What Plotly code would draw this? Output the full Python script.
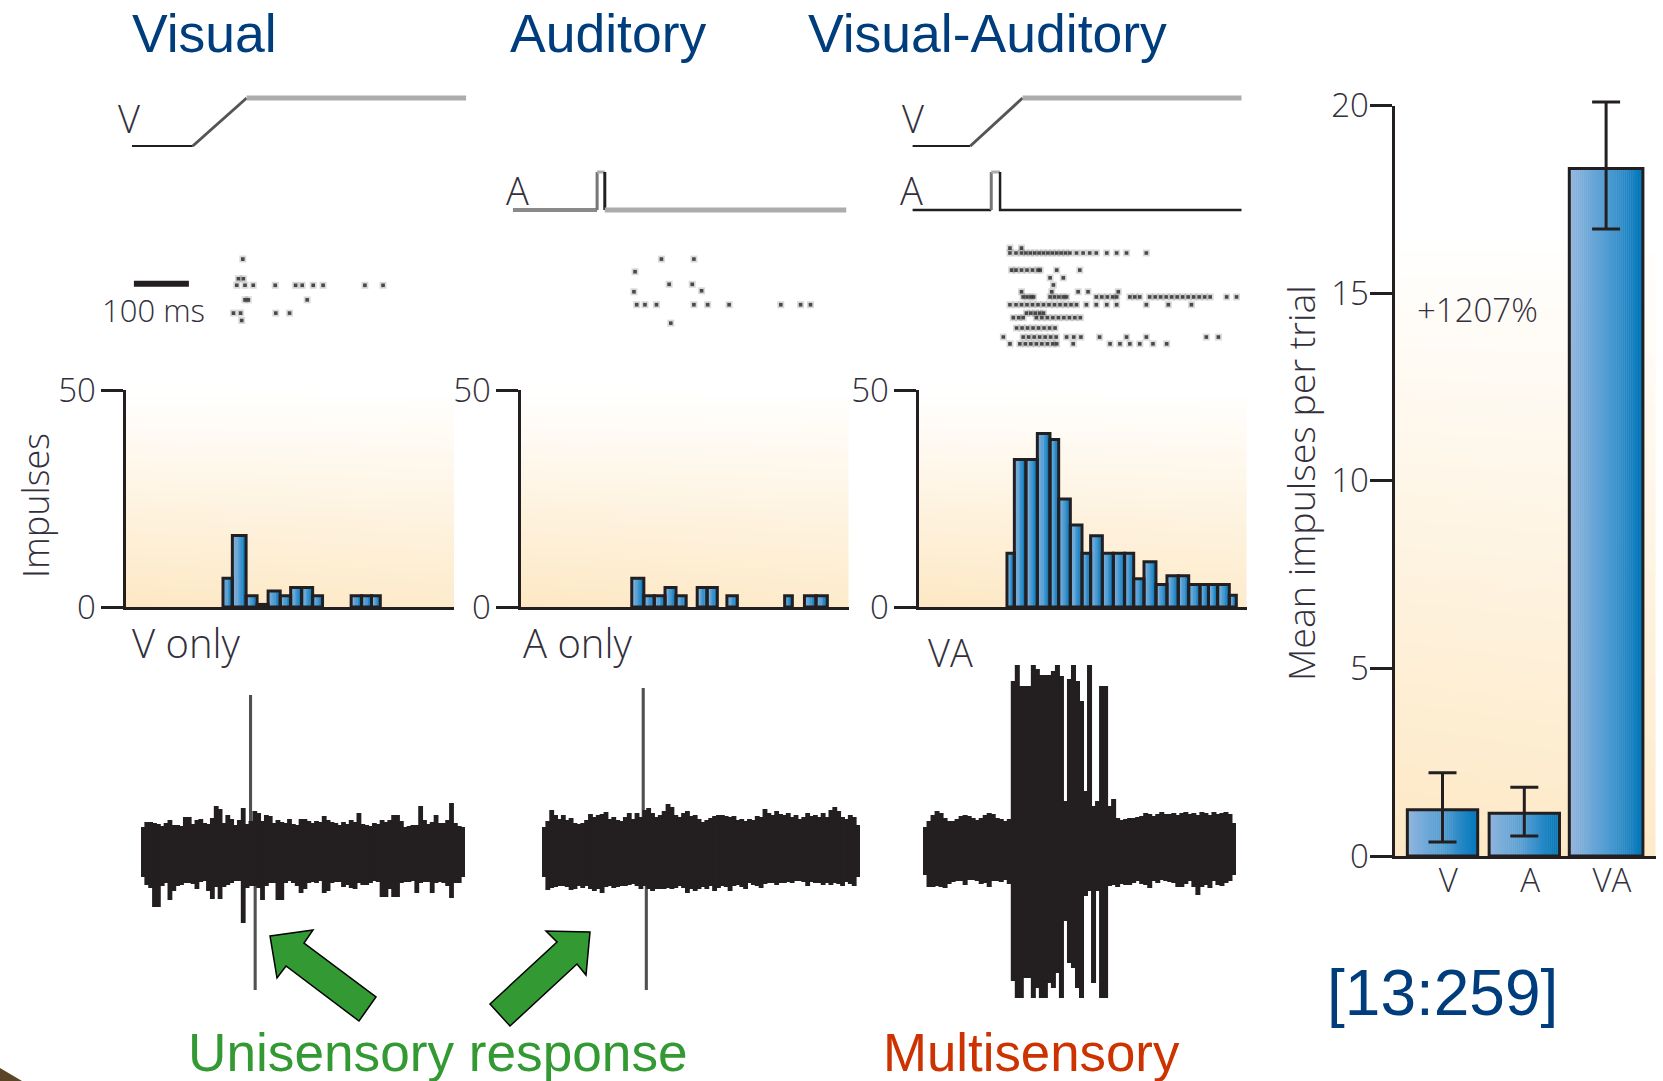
import plotly.graph_objects as go

W, H = 1663, 1081
INK = "#231f20"
TXT = "#33303c"
BLUE_TITLE = "#003d7c"
SMALL_FONT = "Open Sans"
TITLE_FONT = "Liberation Sans"

# ---------- spike-count histograms (bar edges in ms, counts) ----------
V_LEFT = [180, 197, 222, 242, 262, 284, 303, 323, 343, 413, 432, 450]
V_RIGHT = [197, 222, 242, 262, 284, 303, 323, 343, 361, 432, 450, 466]
V_COUNT = [6.6, 16.5, 2.6, 0.6, 3.7, 2.6, 4.5, 4.5, 2.6, 2.6, 2.6, 2.6]

A_LEFT = [205, 227, 246, 265.5, 285.5, 324, 342, 378, 483, 519, 540]
A_RIGHT = [227, 246, 265.5, 285.5, 304, 342, 360.6, 397, 497, 540, 560.6]
A_COUNT = [6.6, 2.6, 2.6, 4.5, 2.6, 4.5, 4.5, 2.6, 2.6, 2.6, 2.6]

VA_LEFT = [163.6, 177, 198, 218.8, 241.8, 257.6, 278.8, 300, 315.7, 337, 357, 377.5,
           394, 412.7, 434.5, 454.5, 475, 494, 514.5, 530, 546.6, 567.8]
VA_RIGHT = [177, 198, 218.8, 241.8, 257.6, 278.8, 300, 315.7, 337, 357, 377.5, 394,
            412.7, 434.5, 454.5, 475, 494, 514.5, 530, 546.6, 567.8, 580.6]
VA_COUNT = [12.4, 34, 34, 40, 38.6, 24.9, 18.9, 12.4, 16.4, 12.4, 12.4, 12.4,
            6.5, 10.4, 5.2, 7.2, 7.2, 5.2, 5.2, 5.2, 5.2, 2.7]

# ---------- mean impulses bar chart ----------
CONDITIONS = ["V", "A", "VA"]
MEAN_IMPULSES = [1.23, 1.14, 18.32]
ERR_HIGH = [2.22, 1.83, 20.09]
ERR_LOW = [0.37, 0.53, 16.71]

# ---------- stimulus time courses (ms, level) ----------
C1_V_T = [14.5, 125, 223, 622]
C1_V_L = [69, 69, 117, 117]
C2_A_T = [-11, 142, 142, 156, 156, 595]
C2_A_L = [5, 5, 43, 43, 5, 5]
C3_V_T = [-8, 97, 192, 590]
C3_V_L = [69, 69, 117, 117]
C3_A_T = [-8, 135, 135, 151, 151, 590]
C3_A_L = [5, 5, 43, 43, 5, 5]
SCALE_BAR_MS = [18, 118]
SCALE_BAR_TRIAL = [13.5, 13.5]

# ---------- rasters: trial row and spike times (ms) ----------
C1_TRIALS = [5.9, 12, 14, 18.5, 22.6, 24.9]
C1_TIMES = [[216], [208, 217], [205, 220, 235, 275, 312, 324, 344, 362, 438, 471],
            [220, 226, 333], [199, 212, 276, 301], [214]]
C2_TRIALS = [5.9, 9.8, 13.7, 15.7, 16, 20, 25.7]
C2_TIMES = [[259, 318], [211], [273, 315], [332], [209],
            [214, 229, 250, 318, 343, 382, 476, 512, 530], [276]]
C3_TRIALS = [2.5, 4, 9.3, 11.7, 13.9, 16, 17.6, 20, 22.6, 24, 27.2, 30, 32.1]
C3_TIMES = [
    [169, 190],
    [169, 180, 190, 198, 206, 214, 222, 230, 238, 246, 254, 262, 270, 278, 290, 302, 314, 326, 345, 363, 381, 417],
    [172, 180, 190, 200, 210, 220, 224, 254, 296],
    [242, 266],
    [248],
    [190, 245, 293, 311, 366],
    [193, 200, 207, 212, 242, 250, 258, 266, 272, 326, 336, 346, 356, 363, 387, 396, 405,
     423, 433, 443, 453, 463, 473, 483, 493, 503, 513, 523, 533, 563, 581],
    [169, 180, 190, 200, 210, 220, 230, 240, 250, 260, 270, 280, 290, 308, 326, 345, 363, 417, 457, 499],
    [199, 207, 215, 223, 230],
    [175, 185, 193, 217, 227, 237, 247, 257, 267, 277, 287, 297],
    [181, 191, 201, 211, 221, 231, 241, 251],
    [157, 193, 203, 213, 223, 233, 243, 253, 272, 285, 298, 332, 381, 417, 526, 548],
    [169, 187, 197, 207, 217, 227, 237, 247, 254, 284, 351, 369, 387, 405, 429, 454],
]

# ---------- recorded traces: upper and lower envelope per sample ----------
C1_UP = [26, 31, 31, 30, 29, 27, 30, 33, 28, 28, 27, 36, 36, 29, 33, 34, 30, 29, 35, 47, 44,
         30, 38, 34, 28, 33, 45, 29, 32, 42, 40, 32, 38, 37, 30, 33, 31, 30, 34, 29, 28, 34,
         34, 32, 30, 32, 31, 37, 33, 31, 30, 28, 31, 29, 33, 31, 40, 29, 28, 27, 30, 29, 33,
         31, 33, 38, 38, 32, 26, 27, 28, 28, 47, 33, 29, 31, 38, 30, 30, 33, 50, 30, 27, 26]
C1_LOW = [24, 32, 35, 54, 54, 33, 30, 47, 38, 33, 32, 30, 30, 31, 36, 29, 28, 38, 46, 34, 46,
          34, 32, 30, 28, 28, 70, 35, 33, 33, 35, 47, 33, 30, 30, 47, 47, 30, 28, 30, 33, 40,
          36, 30, 29, 30, 28, 40, 38, 30, 29, 29, 34, 32, 35, 36, 30, 32, 32, 30, 28, 29, 44,
          44, 36, 44, 44, 30, 29, 29, 28, 40, 30, 29, 29, 40, 30, 29, 30, 33, 45, 30, 30, 24]
C1_SPIKE_AT = [27.9, 29.1]
C1_SPIKE_TOP = [158, 0]
C1_SPIKE_BOTTOM = [0, 137]

C2_UP = [26, 32, 43, 38, 34, 38, 33, 35, 30, 29, 30, 33, 39, 36, 38, 39, 41, 34, 36, 33, 32,
         36, 40, 34, 40, 36, 43, 45, 40, 36, 38, 42, 49, 46, 38, 36, 40, 42, 37, 38, 34, 31,
         33, 35, 37, 38, 38, 37, 36, 37, 33, 34, 32, 34, 33, 37, 36, 44, 40, 38, 42, 39, 38,
         40, 36, 38, 34, 36, 40, 37, 38, 36, 40, 36, 43, 46, 42, 36, 34, 38, 36, 28]
C2_LOW = [24, 37, 35, 34, 33, 33, 34, 37, 36, 33, 35, 33, 36, 38, 36, 40, 34, 33, 35, 34,
          33, 33, 32, 31, 33, 36, 33, 36, 38, 36, 36, 36, 35, 36, 35, 33, 35, 40, 36, 38,
          36, 34, 36, 33, 38, 35, 33, 34, 38, 33, 32, 34, 36, 30, 32, 33, 35, 31, 30, 30,
          32, 30, 30, 29, 30, 28, 28, 29, 33, 29, 30, 30, 32, 30, 32, 30, 31, 33, 29, 31, 33, 24]
C2_SPIKE_AT = [25.6, 26.4]
C2_SPIKE_TOP = [165, 0]
C2_SPIKE_BOTTOM = [0, 137]

C3_UP = [24, 30, 36, 40, 38, 33, 30, 30, 32, 35, 36, 35, 33, 31, 33, 36, 38, 37, 33, 32, 30, 32,
         170, 186, 165, 165, 165, 186, 182, 176, 176, 176, 180, 186, 175, 50, 172, 186, 170, 150,
         60, 186, 45, 50, 165, 165, 45, 52,
         33, 31, 32, 33, 33, 34, 35, 38, 37, 35, 37, 39, 37, 37, 38, 36, 38, 39, 37, 38, 36, 39,
         38, 36, 39, 37, 38, 39, 37, 28]
C3_LOW = [24, 36, 36, 35, 36, 37, 33, 31, 30, 30, 34, 29, 29, 30, 33, 32, 36, 30, 30, 31, 29, 33,
          130, 147, 147, 127, 127, 147, 137, 147, 147, 132, 137, 122, 147, 70, 112, 117, 137, 147,
          45, 40, 132, 40, 147, 147, 35, 34,
          36, 33, 34, 34, 32, 30, 33, 34, 37, 30, 32, 29, 30, 31, 32, 36, 36, 33, 30, 36, 44, 36,
          34, 37, 30, 34, 35, 32, 30, 24]


fig = go.Figure()
axis_count = 0
layout_axes = {}


def new_axes(left, right, top, bottom, xr, yr, xopts=None, yopts=None):
    """Create an x/y axis pair occupying the given pixel box of the page."""
    global axis_count
    axis_count += 1
    n = "" if axis_count == 1 else str(axis_count)
    base = dict(visible=False, fixedrange=True, showgrid=False, zeroline=False, automargin=False)
    xa = dict(base, domain=[left / W, right / W], range=xr, anchor=f"y{n}")
    ya = dict(base, domain=[1 - bottom / H, 1 - top / H], range=yr, anchor=f"x{n}")
    xa.update(xopts or {})
    ya.update(yopts or {})
    layout_axes[f"xaxis{n}"] = xa
    layout_axes[f"yaxis{n}"] = ya
    return f"x{n}", f"y{n}"


def gradient(t):
    stops = [(0.0, (146, 182, 222)), (0.5, (84, 158, 212)), (1.0, (0, 118, 186))]
    for (a, ca), (b, cb) in zip(stops, stops[1:]):
        if t <= b:
            f = (t - a) / (b - a)
            return "rgb(%d,%d,%d)" % tuple(ca[i] + (cb[i] - ca[i]) * f for i in range(3))
    return "rgb(0,118,186)"


def gradient_bars(lefts, rights, heights, xa, ya, slices):
    xs, ws, ys, cs = [], [], [], []
    for l, r, h in zip(lefts, rights, heights):
        step = (r - l) / slices
        for k in range(slices):
            xs.append(l + (k + 0.5) * step)
            ws.append(step * 1.2 if k < slices - 1 else step)
            ys.append(h)
            cs.append(gradient((k + 0.5) / slices))
    fig.add_trace(go.Bar(x=xs, y=ys, width=ws, xaxis=xa, yaxis=ya,
                         marker=dict(color=cs, line=dict(width=0))))
    fig.add_trace(go.Bar(x=[(l + r) / 2 for l, r in zip(lefts, rights)], y=heights,
                         width=[r - l for l, r in zip(lefts, rights)], xaxis=xa, yaxis=ya,
                         marker=dict(color="rgba(0,0,0,0)", line=dict(color=INK, width=3))))


def backdrop(xa, ya, xr, yr, tilt=0.12):
    # a backdrop wash: fades from cream at the baseline to white at the top
    rows = 21
    ys = [yr[0] + (yr[1] - yr[0]) * i / (rows - 1) for i in range(rows)]
    zs = [[i / (rows - 1), min(1, i / (rows - 1) + tilt * (1 - i / (rows - 1)))] for i in range(rows)]
    fig.add_trace(go.Heatmap(x=xr, y=ys, z=zs, zmin=0, zmax=1, zsmooth="best",
                             colorscale=[[0, "#fde8c4"], [1, "#ffffff"]], showscale=False,
                             xaxis=xa, yaxis=ya, hoverinfo="skip"))


TICK_FONT = dict(family=SMALL_FONT, size=33, color=TXT, weight=300)
hist_x = dict(visible=True, showline=True, linecolor=INK, linewidth=3, ticks="", showticklabels=False)
hist_y = dict(visible=True, showline=True, linecolor=INK, linewidth=3, ticks="outside", ticklen=22,
              tickwidth=3, tickcolor=INK, tickvals=[0, 50], ticktext=["0", "50"], tickfont=TICK_FONT,
              ticklabelstandoff=-2)

for left, (ls, rs, cs) in zip([125.5, 520.5, 918.5], [(V_LEFT, V_RIGHT, V_COUNT), (A_LEFT, A_RIGHT, A_COUNT),
                                                       (VA_LEFT, VA_RIGHT, VA_COUNT)]):
    xa, ya = new_axes(left, left + 328.5, 390, 607, [1.5 * 600 / 330, 600], [0, 50], hist_x, hist_y)
    backdrop(xa, ya, [0, 600], [0, 50])
    gradient_bars(ls, rs, cs, xa, ya, 8)

# mean impulses panel
bar_x = [0, 1, 2]
bar_w = [0.86, 0.86, 0.9]
xa, ya = new_axes(
    1394.5, 1656, 105.5, 856, [-0.587, 2.61], [0, 20],
    dict(visible=True, showline=True, linecolor=INK, linewidth=3, ticks="",
         tickvals=[i + 0.07 for i in bar_x], ticktext=CONDITIONS, tickfont=TICK_FONT, ticklabelstandoff=-7),
    dict(visible=True, showline=True, linecolor=INK, linewidth=3, ticks="outside", ticklen=22, tickwidth=3,
         tickcolor=INK, tickvals=[0, 5, 10, 15, 20], tickfont=TICK_FONT, ticklabelstandoff=-6),
)
backdrop(xa, ya, [-0.587, 2.61], [0, 16.5], tilt=0.08)
gradient_bars([x - w / 2 for x, w in zip(bar_x, bar_w)], [x + w / 2 for x, w in zip(bar_x, bar_w)],
              MEAN_IMPULSES, xa, ya, 36)
# error bars live on a slightly taller overlay so that the cap above 20 is not clipped
xe, ye = new_axes(1394.5, 1656, 93.5, 856, [-0.587, 2.61], [0, 20 * (856 - 93.5) / (856 - 105.5)])
fig.add_trace(go.Scatter(
    x=bar_x, y=MEAN_IMPULSES, mode="markers", marker=dict(size=1, color=INK), cliponaxis=False,
    xaxis=xe, yaxis=ye,
    error_y=dict(type="data", symmetric=False,
                 array=[h - m for h, m in zip(ERR_HIGH, MEAN_IMPULSES)],
                 arrayminus=[m - l for l, m in zip(ERR_LOW, MEAN_IMPULSES)],
                 thickness=3, width=14, color=INK)))


def stim_segment(xa, ya, ts, ls, color, width):
    fig.add_trace(go.Scatter(x=ts, y=ls, mode="lines", xaxis=xa, yaxis=ya, cliponaxis=False,
                             line=dict(color=color, width=width, shape="linear")))


# stimulus rows: time axes share the 0.55 px/ms scale of the histograms
def stim_axes(left):
    return new_axes(left - 16.5, left + 352, 90, 215, [-30, 640], [0, 125])


xa, ya = stim_axes(124)
stim_segment(xa, ya, C1_V_T[:2], C1_V_L[:2], INK, 2)
stim_segment(xa, ya, C1_V_T[1:3], C1_V_L[1:3], "#555555", 3)
stim_segment(xa, ya, C1_V_T[2:], C1_V_L[2:], "#acacac", 5)

xa, ya = stim_axes(519)
stim_segment(xa, ya, C2_A_T[:2], C2_A_L[:2], "#8a8a8a", 4)
stim_segment(xa, ya, C2_A_T[1:3], C2_A_L[1:3], "#777777", 3)
stim_segment(xa, ya, C2_A_T[2:4], C2_A_L[2:4], "#acacac", 3)
stim_segment(xa, ya, C2_A_T[3:5], C2_A_L[3:5], INK, 3)
stim_segment(xa, ya, C2_A_T[4:], C2_A_L[4:], "#acacac", 5)

xa, ya = stim_axes(917)
stim_segment(xa, ya, C3_V_T[:2], C3_V_L[:2], INK, 2)
stim_segment(xa, ya, C3_V_T[1:3], C3_V_L[1:3], "#555555", 3)
stim_segment(xa, ya, C3_V_T[2:], C3_V_L[2:], "#acacac", 5)
stim_segment(xa, ya, C3_A_T[:2], C3_A_L[:2], INK, 2.5)
stim_segment(xa, ya, C3_A_T[1:3], C3_A_L[1:3], "#777777", 3)
stim_segment(xa, ya, C3_A_T[2:4], C3_A_L[2:4], "#acacac", 3)
stim_segment(xa, ya, C3_A_T[3:], C3_A_L[3:], INK, 2.5)


# rasters
def raster(left, trials, times):
    xa, ya = new_axes(left - 16.5, left + 352, 240, 350, [-30, 640], [34, 0])
    xs = [t for row in times for t in row]
    ys = [tr for tr, row in zip(trials, times) for _ in row]
    fig.add_trace(go.Scatter(x=xs, y=ys, mode="markers", xaxis=xa, yaxis=ya,
                             marker=dict(symbol="square", size=7, color="#555555", opacity=0.22,
                                         line=dict(width=0))))
    fig.add_trace(go.Scatter(x=xs, y=ys, mode="markers", xaxis=xa, yaxis=ya,
                             marker=dict(symbol="square", size=3.6, color="#2f2f2f", opacity=0.85,
                                         line=dict(width=0))))
    return xa, ya


xa, ya = raster(124, C1_TRIALS, C1_TIMES)
fig.add_trace(go.Scatter(x=SCALE_BAR_MS, y=SCALE_BAR_TRIAL, mode="lines", xaxis=xa, yaxis=ya,
                         line=dict(color=INK, width=6)))
raster(519, C2_TRIALS, C2_TIMES)
raster(917, C3_TRIALS, C3_TIMES)


# recorded traces
def recording(left, right, up, low, center, spike_at=None, spike_top=None, spike_bottom=None):
    n = len(up)
    assert n == len(low)
    xa, ya = new_axes(left, right, center - 198, center + 152, [-0.5, n - 0.5], [-152, 198])
    if spike_at:
        fig.add_trace(go.Bar(x=spike_at, y=[t + b for t, b in zip(spike_top, spike_bottom)],
                             base=[-b for b in spike_bottom], width=0.8, xaxis=xa, yaxis=ya,
                             marker=dict(color="#505050", line=dict(width=0))))
    fig.add_trace(go.Bar(x=list(range(n)), y=[u + l for u, l in zip(up, low)], base=[-l for l in low],
                         width=1.25, xaxis=xa, yaxis=ya, marker=dict(color=INK, line=dict(width=0))))


recording(141, 465, C1_UP, C1_LOW, 853, C1_SPIKE_AT, C1_SPIKE_TOP, C1_SPIKE_BOTTOM)
recording(542, 860, C2_UP, C2_LOW, 853, C2_SPIKE_AT, C2_SPIKE_TOP, C2_SPIKE_BOTTOM)
recording(923, 1236, C3_UP, C3_LOW, 851)


def poly(points):
    return "M " + " L ".join(f"{x / W:.5f},{1 - y / H:.5f}" for x, y in points) + " Z"


ARROW_STYLE = dict(type="path", xref="paper", yref="paper", fillcolor="#339933", line=dict(color="#000000", width=1.5))
shapes = [
    dict(path=poly([(270, 936), (313, 930), (304, 943), (376, 997), (359, 1021), (286, 966), (277, 978)]), **ARROW_STYLE),
    dict(path=poly([(590, 932), (546, 931), (557, 942), (490, 1004), (510, 1026), (577, 964), (586, 975)]), **ARROW_STYLE),
    dict(type="path", xref="paper", yref="paper", path=poly([(0, 1068), (22, 1081), (0, 1081)]),
         fillcolor="#5c4526", line=dict(width=0)),
]


def label(x, y, text, size, color=TXT, family=SMALL_FONT, xanchor="left", angle=0, weight=300):
    return dict(x=x / W, y=1 - y / H, xref="paper", yref="paper", text=text, showarrow=False,
                xanchor=xanchor, yanchor="middle", textangle=angle, borderpad=0, borderwidth=0,
                font=dict(family=family, size=size, color=color, weight=weight))


annotations = [
    label(132, 33, "Visual", 53.5, BLUE_TITLE, TITLE_FONT, weight=400),
    label(510, 33, "Auditory", 53.5, BLUE_TITLE, TITLE_FONT, weight=400),
    label(808, 33, "Visual-Auditory", 53.5, BLUE_TITLE, TITLE_FONT, weight=400),
    label(188, 1052, "Unisensory response", 53.2, "#339933", TITLE_FONT, weight=400),
    label(883, 1052, "Multisensory", 52.8, "#cc3300", TITLE_FONT, weight=400),
    label(1327, 993, "[13:259]", 64, BLUE_TITLE, TITLE_FONT, weight=400),
    label(118, 118, "V", 38),
    label(506, 190, "A", 38),
    label(902, 118, "V", 38),
    label(900, 190, "A", 38),
    label(102, 310, "100 ms", 31),
    label(132, 642, "V only", 40),
    label(523, 642, "A only", 40),
    label(928, 652, "VA", 38),
    label(1417, 310, "+1207%", 33),
    label(35, 506, "Impulses", 36, xanchor="center", angle=-90),
    label(1300, 483, "Mean impulses per trial", 37.5, xanchor="center", angle=-90),
]

fig.update_layout(
    template="none",
    width=W, height=H, margin=dict(l=0, r=0, t=0, b=0), autosize=False,
    paper_bgcolor="white", plot_bgcolor="rgba(0,0,0,0)", showlegend=False, barmode="overlay",
    shapes=shapes, annotations=annotations, **layout_axes,
)

fig.write_html("out.html", post_script="document.body.style.margin='0';",
               config={"displayModeBar": False})
